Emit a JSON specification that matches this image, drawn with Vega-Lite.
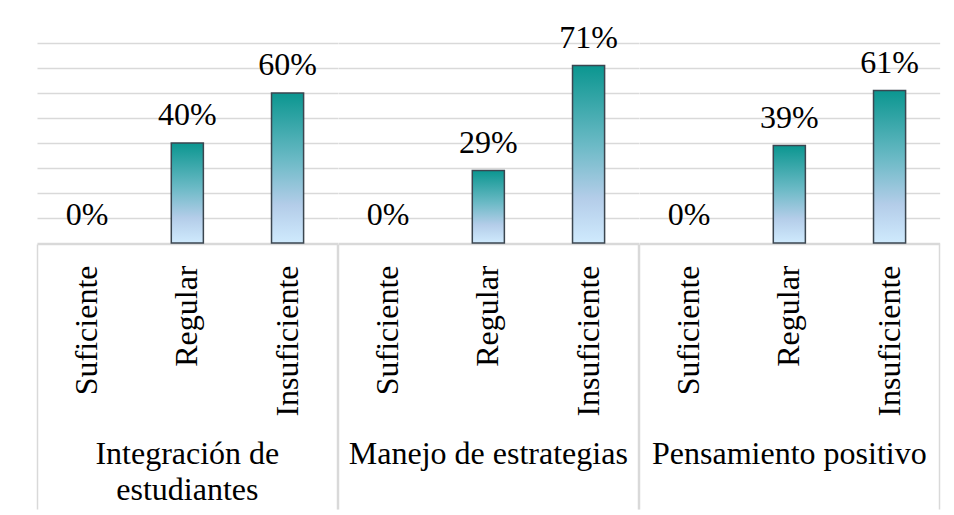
{
  "$schema": "https://vega.github.io/schema/vega-lite/v6.json",
  "padding": {"left": 21, "top": 21, "right": 10, "bottom": 0},
  "background": "white",
  "data": {
    "values": [
      {"group": "Integración de estudiantes", "level": "Suficiente", "value": 0},
      {"group": "Integración de estudiantes", "level": "Regular", "value": 0.40},
      {"group": "Integración de estudiantes", "level": "Insuficiente", "value": 0.60},
      {"group": "Manejo de estrategias", "level": "Suficiente", "value": 0},
      {"group": "Manejo de estrategias", "level": "Regular", "value": 0.29},
      {"group": "Manejo de estrategias", "level": "Insuficiente", "value": 0.71},
      {"group": "Pensamiento positivo", "level": "Suficiente", "value": 0},
      {"group": "Pensamiento positivo", "level": "Regular", "value": 0.39},
      {"group": "Pensamiento positivo", "level": "Insuficiente", "value": 0.61}
    ]
  },
  "facet": {
    "column": {
      "field": "group",
      "type": "nominal",
      "sort": ["Integración de estudiantes", "Manejo de estrategias", "Pensamiento positivo"],
      "title": null,
      "header": {
        "orient": "bottom",
        "labelOrient": "bottom",
        "labelFont": "Liberation Serif",
        "labelFontSize": 32,
        "labelColor": "black",
        "labelBaseline": "top",
        "labelLineHeight": 36,
        "labelPadding": -71,
        "labelExpr": "datum.value == 'Integración de estudiantes' ? ['Integración de', 'estudiantes'] : datum.label"
      }
    }
  },
  "spacing": 0,
  "spec": {
    "width": 300.67,
    "height": 200,
    "layer": [
      {
        "mark": {
          "type": "bar",
          "width": {"band": 0.32},
          "stroke": "#3b4650",
          "strokeWidth": 1.5,
          "fill": {
            "gradient": "linear",
            "x1": 0, "y1": 0, "x2": 0, "y2": 1,
            "stops": [
              {"offset": 0, "color": "#0b9690"},
              {"offset": 0.45, "color": "#6cbac6"},
              {"offset": 0.75, "color": "#b4cde9"},
              {"offset": 1, "color": "#cfeafd"}
            ]
          }
        },
        "encoding": {
          "x": {
            "field": "level",
            "type": "nominal",
            "sort": ["Suficiente", "Regular", "Insuficiente"],
            "scale": {"paddingInner": 0, "paddingOuter": 0},
            "axis": {
              "title": null,
              "labelAngle": -90,
              "labelFont": "Liberation Serif",
              "labelFontSize": 32,
              "labelColor": "black",
              "labelPadding": -244,
              "labelLimit": 300,
              "bandPosition": 1,
              "tickExtra": true,
              "tickSize": 265,
              "tickWidth": 1.5,
              "tickColor": {
                "condition": {"test": "datum.value != 'Suficiente' && datum.value != 'Regular'", "value": "#d9d9d9"},
                "value": "transparent"
              },
              "domainColor": "#d9d9d9",
              "domainWidth": 1.5,
              "grid": false
            }
          },
          "y": {
            "field": "value",
            "type": "quantitative",
            "scale": {"domain": [0, 0.8]},
            "axis": {
              "title": null,
              "labels": false,
              "ticks": false,
              "domain": false,
              "grid": true,
              "gridColor": "#d9d9d9",
              "gridWidth": 1.5,
              "tickCount": 9,
              "values": [0, 0.1, 0.2, 0.3, 0.4, 0.5, 0.6, 0.7, 0.8]
            }
          },
          "strokeOpacity": {
            "condition": {"test": "datum.value == 0", "value": 0},
            "value": 1
          }
        }
      },
      {
        "mark": {
          "type": "text",
          "font": "Liberation Serif",
          "fontSize": 32,
          "color": "black",
          "baseline": "alphabetic",
          "dy": -18
        },
        "encoding": {
          "x": {"field": "level", "type": "nominal", "sort": ["Suficiente", "Regular", "Insuficiente"]},
          "y": {"field": "value", "type": "quantitative"},
          "text": {"field": "value", "type": "quantitative", "format": ".0%"}
        }
      }
    ]
  },
  "config": {
    "font": "Liberation Serif",
    "view": {"stroke": null}
  }
}
